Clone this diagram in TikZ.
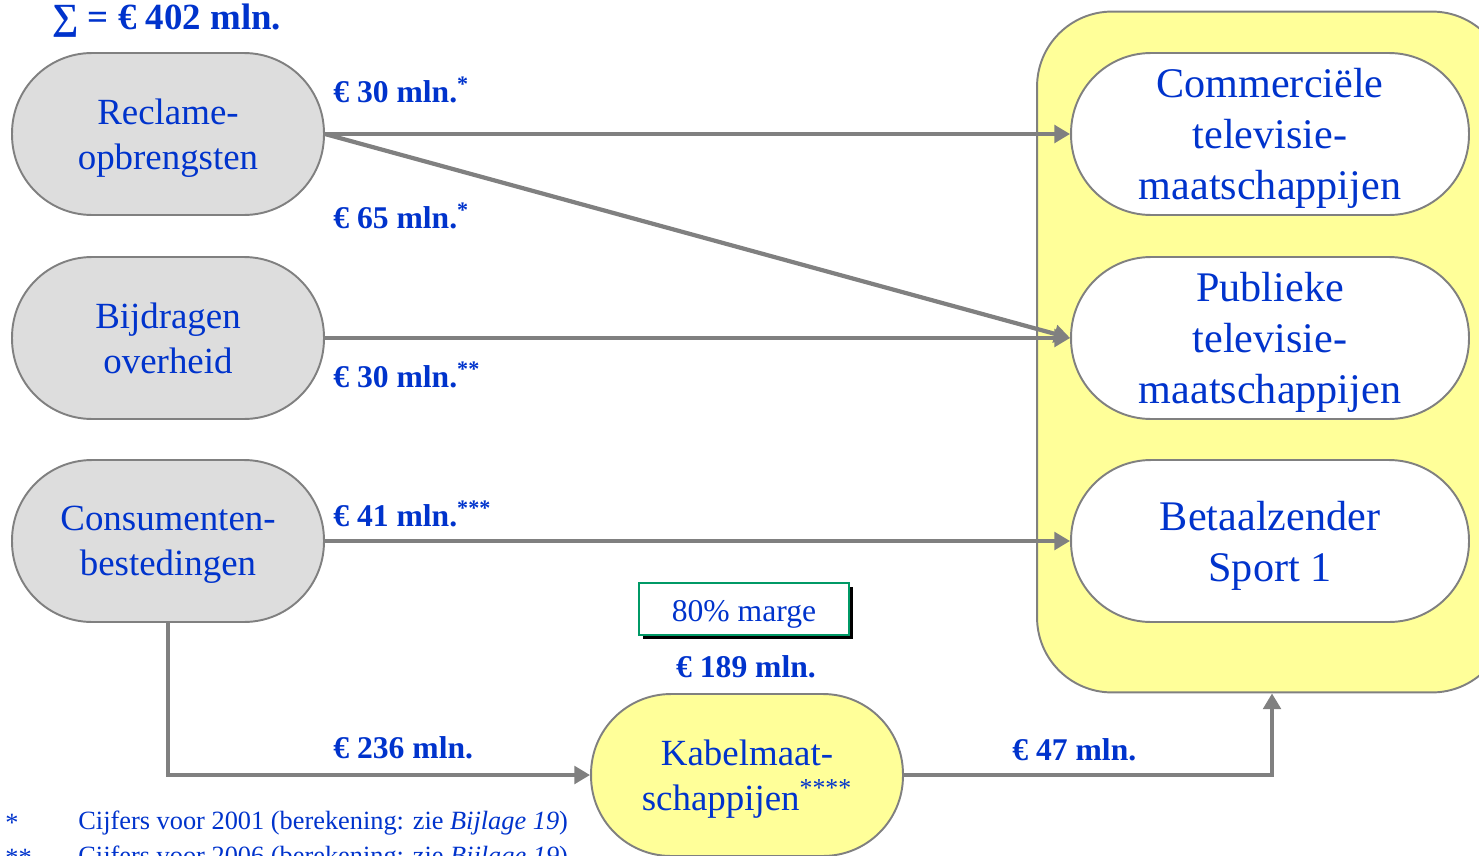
\documentclass[tikz,border=0pt]{standalone}
\usepackage{fontspec}
\setmainfont{Liberation Serif}
\usetikzlibrary{arrows.meta, positioning, shadows}
\definecolor{textblue}{RGB}{0, 51, 204}
\definecolor{flowgray}{RGB}{128, 128, 128}
\definecolor{boxgray}{RGB}{221, 221, 221}
\definecolor{boxyellow}{RGB}{255, 255, 153}
\definecolor{bordergreen}{RGB}{0, 153, 102}

\begin{document}
\begin{tikzpicture}[
    x=0.02cm, y=-0.02cm,
    every node/.style={text=textblue},
    srcbox/.style={rectangle, draw=flowgray, fill=boxgray, line width=1.1pt, rounded corners=1.6cm, align=center, minimum width=6.24cm, minimum height=3.24cm, inner sep=0pt, font=\fontsize{21}{25.5}\selectfont, text depth=-1.2pt},
    tvbox/.style={srcbox, fill=white, minimum width=7.96cm, font=\fontsize{24}{29}\selectfont, text depth=-0.5pt},
    kabelbox/.style={srcbox, fill=boxyellow},
    zenderbox/.style={rectangle, draw=flowgray, fill=boxyellow, line width=1.1pt, rounded corners=1.5cm, minimum width=9.4cm, minimum height=13.62cm},
    amount/.style={anchor=west, inner sep=0pt, font=\fontsize{18}{20}\selectfont\bfseries},
    notebox/.style={rectangle, draw=bordergreen, fill=white, line width=1.1pt, minimum width=4.2cm, minimum height=1.04cm, font=\fontsize{18}{20}\selectfont, general shadow={fill=black, shadow xshift=0.08cm, shadow yshift=-0.08cm}},
    footnote/.style={anchor=west, inner sep=0pt, font=\fontsize{15}{18}\selectfont},
    arrow/.style={-{Triangle[length=9pt, width=10pt]}, line width=2.4pt, draw=flowgray}
]
    \useasboundingbox (0,0) rectangle (1479,855);
    \clip (0,0) rectangle (1479,855);

    \node[anchor=west, inner sep=0pt, font=\fontsize{21}{24}\selectfont\bfseries] (som) at (52,21) {∑ = € 402 mln.};

    % bronnen
    \node[srcbox] (reclame) at (168,134) {Reclame-\\opbrengsten};
    \node[srcbox] (overheid) at (168,338) {Bijdragen\\overheid};
    \node[srcbox] (consument) at (168,541) {Consumenten-\\bestedingen};

    % zenders
    \node[zenderbox] (zenders) at (1272,352) {};
    \node[tvbox] (commercieel) at (1270,134) {Commerciële\\televisie-\\maatschappijen};
    \node[tvbox] (publiek) at (1270,338) {Publieke\\televisie-\\maatschappijen};
    \node[tvbox] (sport) at (1270,541) {Betaalzender\\Sport 1};

    \node[kabelbox] (kabel) at (747,775) {Kabelmaat-\\schappijen\textsuperscript{****}};
    \node[notebox] (marge) at (744,609) {\rule{0pt}{18.5pt}80\% marge};

    \draw[arrow] (reclame.east) -- (commercieel.west);
    \draw[arrow] (reclame.east) -- (publiek.west);
    \draw[arrow] (overheid.east) -- (publiek.west);
    \draw[arrow] (consument.east) -- (sport.west);
    \draw[arrow] (consument.south) |- (kabel.west);
    \draw[arrow] (kabel.east) -| (zenders.south);

    \node[amount] (b30) at (333,90) {€ 30 mln.\textsuperscript{*}};
    \node[amount] (b65) at (333,216) {€ 65 mln.\textsuperscript{*}};
    \node[amount] (b30o) at (333,375) {€ 30 mln.\textsuperscript{**}};
    \node[amount] (b41) at (333,514) {€ 41 mln.\textsuperscript{***}};
    \node[amount] (b236) at (333,748) {€ 236 mln.};
    \node[amount, anchor=center] (b189) at (746,667) {€ 189 mln.};
    \node[amount] (b47) at (1012,750) {€ 47 mln.};

    % voetnoten
    \node[footnote] (ster1) at (5,823) {*};
    \node[footnote] (noot1) at (78,823) {Cijfers voor 2001 (berekening: zie \textit{Bijlage 19})};
    \node[footnote] (ster2) at (5,858) {**};
    \node[footnote] (noot2) at (78,858) {Cijfers voor 2006 (berekening: zie \textit{Bijlage 19})};
\end{tikzpicture}
\end{document}
